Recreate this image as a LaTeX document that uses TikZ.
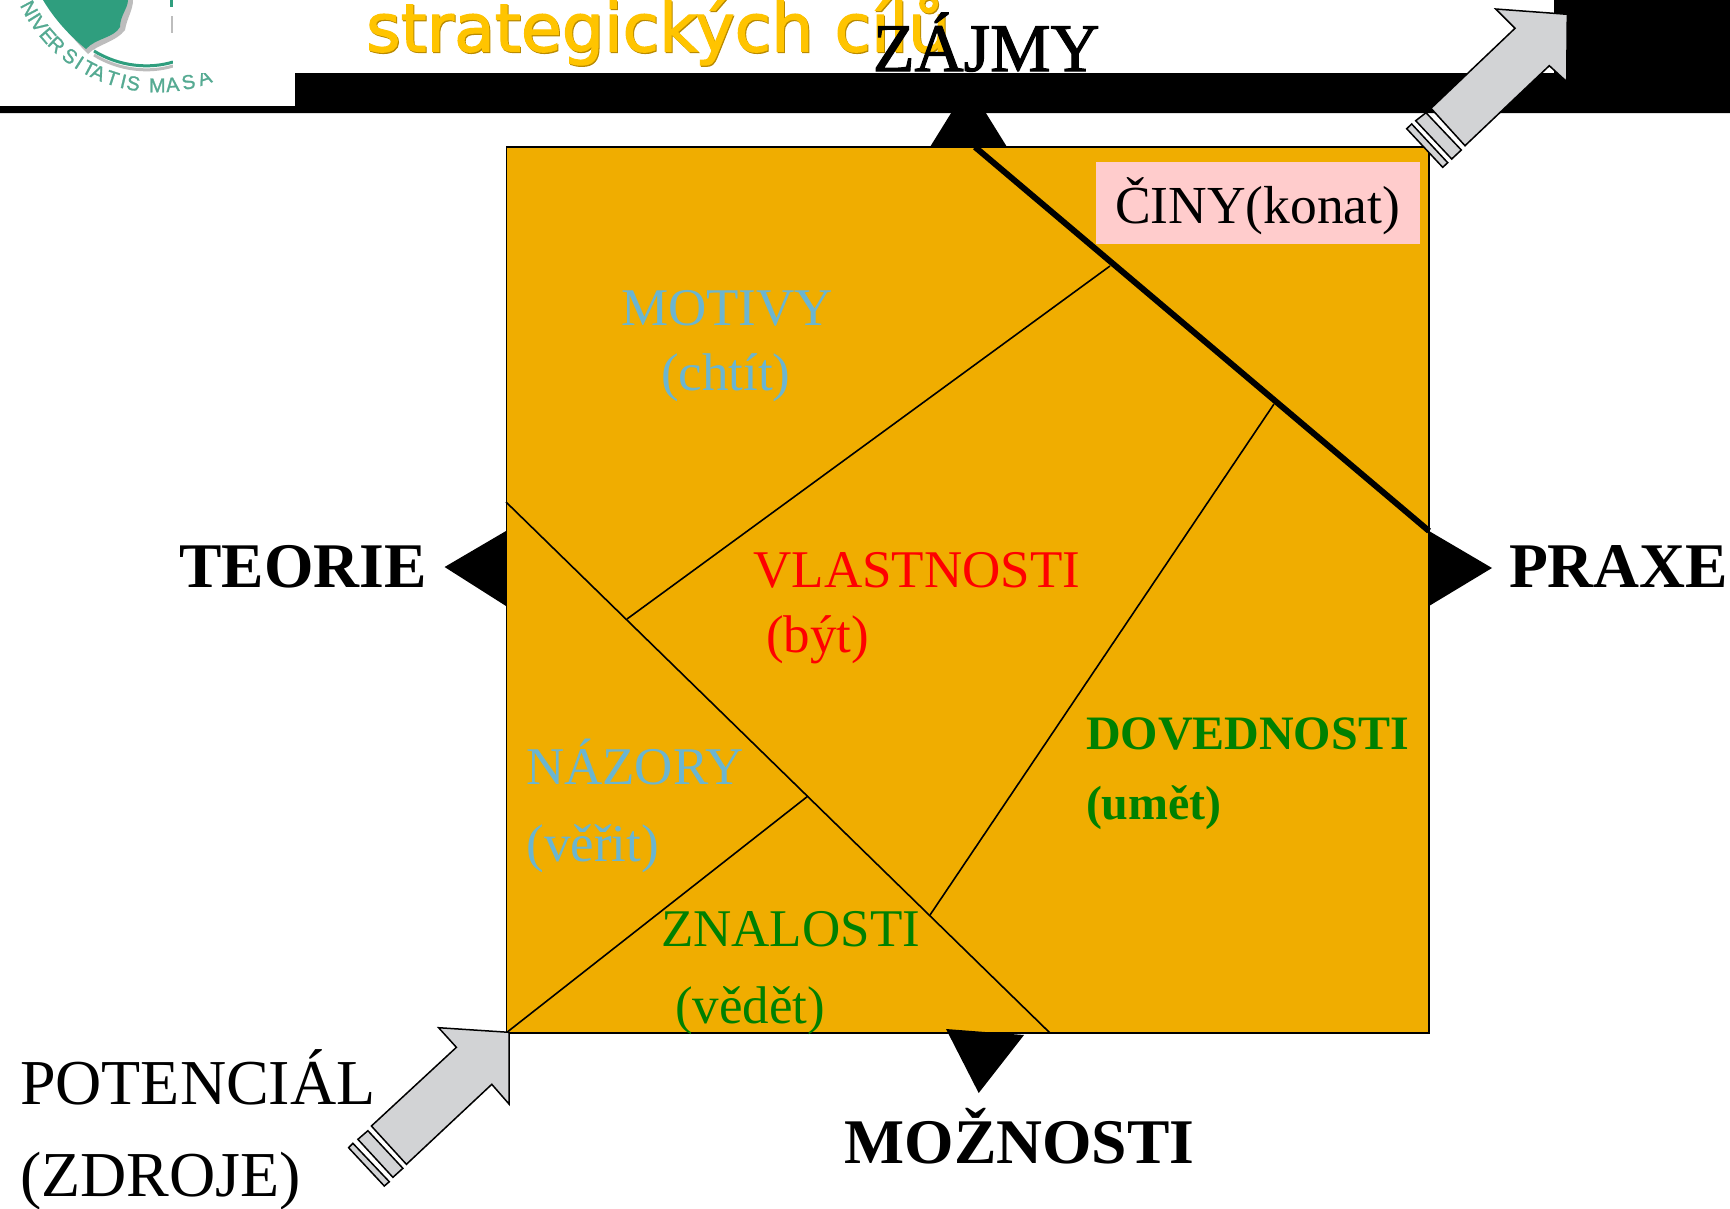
\documentclass[tikz,border=0pt]{standalone}
\usepackage{fontspec}
\setmainfont{Liberation Serif}
\newfontfamily\titlefont[FakeBold=1.8]{DejaVu Sans}
\newfontfamily\logofont[FakeBold=1.2]{Liberation Sans}
\newfontfamily\heavyserif[FakeBold=1.6]{Liberation Serif}
\definecolor{boxfill}{HTML}{F0AD00}
\definecolor{pinkfill}{HTML}{FFCCCC}
\definecolor{arrowgray}{HTML}{D2D3D5}
\definecolor{skyblue}{HTML}{6BB5D0}
\definecolor{darkgreen}{HTML}{008000}
\definecolor{titleyellow}{HTML}{FFC400}
\definecolor{titleshadow}{HTML}{B98A00}
\definecolor{logogreen}{HTML}{2F9E7E}
\definecolor{logotext}{HTML}{55AA92}
\definecolor{logogray}{HTML}{BDBDBD}
\newcommand{\fs}[1]{\fontsize{#1}{#1}\selectfont}
\tikzset{
  txt/.style={anchor=base west,inner sep=0pt,outer sep=0pt},
  divider/.style={draw=black,line width=1.6pt},
  thickdivider/.style={draw=black,line width=6pt},
  blockarrow/.style={draw=black,fill=arrowgray,line width=1.5pt,line join=miter},
  logoletter/.style={inner sep=0pt,text=logotext,font=\logofont\fs{20}},
  lab/.style={txt,font=\fs{53}},
  big/.style={txt,font=\bfseries\fs{63.6}}
}
\begin{document}
\begin{tikzpicture}[x=1pt,y=-1pt]
\useasboundingbox (0,0) rectangle (1730,1208);
\fill[white] (0,0) rectangle (1730,1208);
% logo
\begin{scope}
\clip (0,0) rectangle (173,106);
\fill[logogray] (47,0) .. controls (58,20) and (72,38) .. (88,54) .. controls (98,44) and (116,42) .. (125,30) .. controls (127,18) and (133,10) .. (133,0) -- cycle;
\fill[logogreen] (43,0) .. controls (55,20) and (70,36) .. (86,49) .. controls (96,38) and (114,38) .. (120,27) .. controls (120,16) and (128,8) .. (128,0) -- cycle;
\draw[logogray,line width=3pt] (94,55) .. controls (120,71) and (150,73) .. (173,66);
\draw[logogreen,line width=3pt] (94,51) .. controls (120,67) and (150,69) .. (173,62);
\fill[logogreen] (170,0) rectangle (173,7);
\fill[logogray] (171,16) rectangle (173,33);
\end{scope}
\foreach \a/\c [count=\i] in {152/N,148/I,144.6/V,139/E,134/R,127/S,122.5/I,118/T,114/A,108/T,103.5/I,99.5/S,90/M,84/A,77.6/S,71/A}{
  \node[logoletter,rotate={90-\a},name=logo\i] at ({157.3+145*cos(\a)},{-59.6+145*sin(\a)}) {\c};
}
\fill[white] (173,0) rectangle (295,73);
% title
\node[txt,text=titleshadow,font=\titlefont\fs{66.5}] (titleback) at (367,52.5) {strategických cílů};
\node[txt,text=titleyellow,font=\titlefont\fs{66.5}] (title) at (366,51.3) {strategických cílů};
% black band
\fill[black] (295,73) -- (1554,73) -- (1554,0) -- (1730,0) -- (1730,113) -- (0,113) -- (0,106) -- (295,106) -- cycle;
% square
\coordinate (nw) at (506.5,147);
\coordinate (se) at (1429,1033);
\draw[fill=boxfill,draw=black,line width=1.8pt] (nw) rectangle (se);
% pointers
\fill[black] (930,147) -- (968.5,85) -- (1007,147) -- cycle;
\fill[black] (506,531) -- (506,606) -- (444.6,567) -- cycle;
\fill[black] (1429,531) -- (1429,606) -- (1492,568) -- cycle;
\fill[black] (946,1029) -- (1024,1035) -- (978.7,1093) -- cycle;
% dividers
\coordinate (a1) at (975,147);   \coordinate (a2) at (1429,531);
\coordinate (b1) at (1110,266);  \coordinate (b2) at (627,619);
\coordinate (c1) at (506,502);   \coordinate (c2) at (1050,1033);
\coordinate (d1) at (1274,404);  \coordinate (d2) at (930,915);
\coordinate (e1) at (808,796);   \coordinate (e2) at (506,1033);
\draw[divider] (b1) -- (b2);
\draw[divider] (c1) -- (c2);
\draw[divider] (d1) -- (d2);
\draw[divider] (e1) -- (e2);
\draw[thickdivider] (a1) -- (a2);
% pink box
\fill[pinkfill] (1096,162) rectangle (1420,244);
% arrows
\draw[blockarrow] (1567.3,14.3) -- (1495.7,9) -- (1515,28.3) -- (1431,108.3) -- (1465,145.7) -- (1549.3,65.7) -- (1566.7,81.7) -- cycle;
\draw[blockarrow] (1426,112.7) -- (1461.3,150) -- (1451.7,159) -- (1415.7,120.7) -- cycle;
\draw[blockarrow] (1411.7,124) -- (1447.7,162.7) -- (1442.7,167.3) -- (1406.7,128.7) -- cycle;
\draw[blockarrow] (509,1032.3) -- (438.6,1027.7) -- (456.4,1047.3) -- (371.4,1126) -- (406.4,1164.3) -- (491.8,1084.3) -- (509,1104) -- cycle;
\draw[blockarrow] (367.9,1130.7) -- (402.9,1168.3) -- (392.9,1177.3) -- (357.9,1139.3) -- cycle;
\draw[blockarrow] (352.9,1143.3) -- (389.3,1181.7) -- (384.3,1186) -- (348.6,1147.7) -- cycle;
% labels
\node[txt,font=\heavyserif\fs{68}] (zajmy) at (873,71) {ZÁJMY};
\node[lab,text=skyblue] (motivy) at (621,325) {MOTIVY};
\node[lab,text=skyblue] (chtit) at (661,390) {(chtít)};
\node[lab,text=red] (vlastnosti) at (753.5,587) {VLASTNOSTI};
\node[lab,text=red] (byt) at (766,652) {(být)};
\node[lab,text=skyblue] (nazory) at (526,784) {NÁZORY};
\node[lab,text=skyblue] (verit) at (526.5,861) {(věřit)};
\node[lab,text=darkgreen] (znalosti) at (661,946) {ZNALOSTI};
\node[lab,text=darkgreen] (vedet) at (675,1023) {(vědět)};
\node[txt,text=darkgreen,font=\bfseries\fs{48}] (dovednosti) at (1086,749) {DOVEDNOSTI};
\node[txt,text=darkgreen,font=\bfseries\fs{48}] (umet) at (1086,819) {(umět)};
\node[txt,font=\fs{53.5}] (ciny) at (1115,223) {ČINY(konat)};
\node[big] (teorie) at (179.5,587) {TEORIE};
\node[big] (praxe) at (1509,587) {PRAXE};
\node[big] (moznosti) at (844.5,1163) {MOŽNOSTI};
\node[txt,font=\fs{64}] (potencial) at (20,1104) {POTENCIÁL};
\node[txt,font=\fs{64}] (zdroje) at (20,1196) {(ZDROJE)};
\end{tikzpicture}
\end{document}
